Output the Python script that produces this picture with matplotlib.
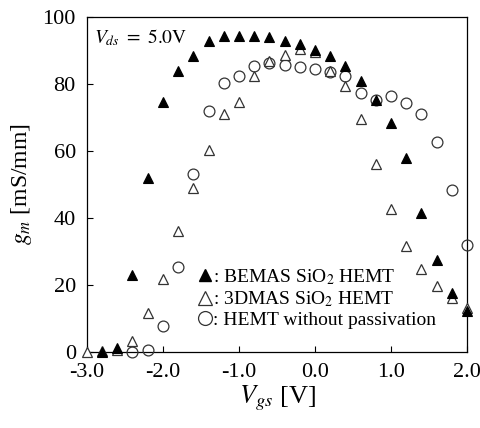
import matplotlib
matplotlib.use("Agg")
import matplotlib.pyplot as plt
from matplotlib.lines import Line2D
from matplotlib.ticker import FormatStrFormatter

plt.rcParams['font.family'] = ['Liberation Serif', 'DejaVu Serif']
plt.rcParams['mathtext.fontset'] = 'stix'
plt.rcParams['axes.unicode_minus'] = False

# BEMAS SiO2 HEMT (filled triangles)
vgs_bemas = [-2.8, -2.6, -2.4, -2.2, -2.0, -1.8, -1.6, -1.4, -1.2, -1.0, -0.8, -0.6, -0.4, -0.2,
             0.0, 0.2, 0.4, 0.6, 0.8, 1.0, 1.2, 1.4, 1.6, 1.8, 2.0]
gm_bemas = [0.0, 1.0, 23.0, 52.0, 74.5, 84.0, 88.5, 92.8, 94.3, 94.3, 94.3, 94.0, 93.0, 92.0,
            90.3, 88.4, 85.5, 81.0, 75.2, 68.4, 57.8, 41.4, 27.5, 17.5, 12.2]

# 3DMAS SiO2 HEMT (open triangles)
vgs_3dmas = [-3.0, -2.8, -2.6, -2.4, -2.2, -2.0, -1.8, -1.6, -1.4, -1.2, -1.0, -0.8, -0.6, -0.4,
             -0.2, 0.0, 0.2, 0.4, 0.6, 0.8, 1.0, 1.2, 1.4, 1.6, 1.8, 2.0]
gm_3dmas = [0.0, 0.3, 0.6, 3.1, 11.5, 21.8, 36.2, 48.8, 60.3, 71.2, 74.7, 82.4, 86.9, 88.7,
            90.6, 89.6, 84.0, 79.4, 69.6, 56.0, 42.6, 31.7, 24.7, 19.7, 16.2, 13.0]

# HEMT without passivation (open circles)
vgs_nopass = [-2.4, -2.2, -2.0, -1.8, -1.6, -1.4, -1.2, -1.0, -0.8, -0.6, -0.4, -0.2, 0.0, 0.2,
              0.4, 0.6, 0.8, 1.0, 1.2, 1.4, 1.6, 1.8, 2.0]
gm_nopass = [0.0, 0.4, 7.6, 25.2, 53.0, 71.9, 80.4, 82.4, 85.5, 86.4, 85.7, 85.0, 84.4, 83.7,
             82.4, 77.2, 75.2, 76.5, 74.4, 71.2, 62.8, 48.4, 31.9]

labels = [': BEMAS SiO$_2$ HEMT', ': 3DMAS SiO$_2$ HEMT', ': HEMT without passivation']
x_ticks = [-3.0, -2.0, -1.0, 0.0, 1.0, 2.0]
y_ticks = [0, 20, 40, 60, 80, 100]

fig = plt.figure(figsize=(4.8, 4.28), dpi=100)
ax = fig.add_axes([0.181, 0.178, 0.792, 0.782])

ax.plot(vgs_nopass, gm_nopass, linestyle='none', marker='o', ms=7.8,
        mfc='none', mec='#333333', mew=0.9, clip_on=False, zorder=3)
ax.plot(vgs_3dmas, gm_3dmas, linestyle='none', marker='^', ms=7.2,
        mfc='white', mec='#333333', mew=0.9, clip_on=False, zorder=4)
ax.plot(vgs_bemas, gm_bemas, linestyle='none', marker='^', ms=6.5,
        mfc='black', mec='black', mew=0.8, clip_on=False, zorder=5)

ax.set_xlim(-3.0, 2.0)
ax.set_ylim(0, 100)
ax.set_xticks(x_ticks)
ax.set_yticks(y_ticks)
ax.xaxis.set_major_formatter(FormatStrFormatter('%.1f'))
ax.tick_params(direction='in', length=4, width=0.8, labelsize=16, pad=8,
               top=False, right=False)
for s in ax.spines.values():
    s.set_linewidth(0.9)

ax.set_xlabel('$V_{gs}$ [V]', fontsize=19, labelpad=1)
ax.set_ylabel('$g_m$ [mS/mm]', fontsize=17, labelpad=6)

ax.text(0.02, 0.97, r'$V_{ds}\ =\ 5.0\mathrm{V}$', transform=ax.transAxes, fontsize=14,
        ha='left', va='top')

handles = [
    Line2D([], [], linestyle='none', marker='^', ms=9, mfc='black', mec='black'),
    Line2D([], [], linestyle='none', marker='^', ms=9.5, mfc='white', mec='#333333', mew=0.9),
    Line2D([], [], linestyle='none', marker='o', ms=10, mfc='none', mec='#333333', mew=0.9),
]
ax.legend(handles, labels, loc='lower left', bbox_to_anchor=(0.27, 0.045),
          frameon=False, fontsize=14, handlelength=0.8,
          handletextpad=0.0, labelspacing=0.12, borderaxespad=0)

fig.savefig('out.png', dpi=100)
